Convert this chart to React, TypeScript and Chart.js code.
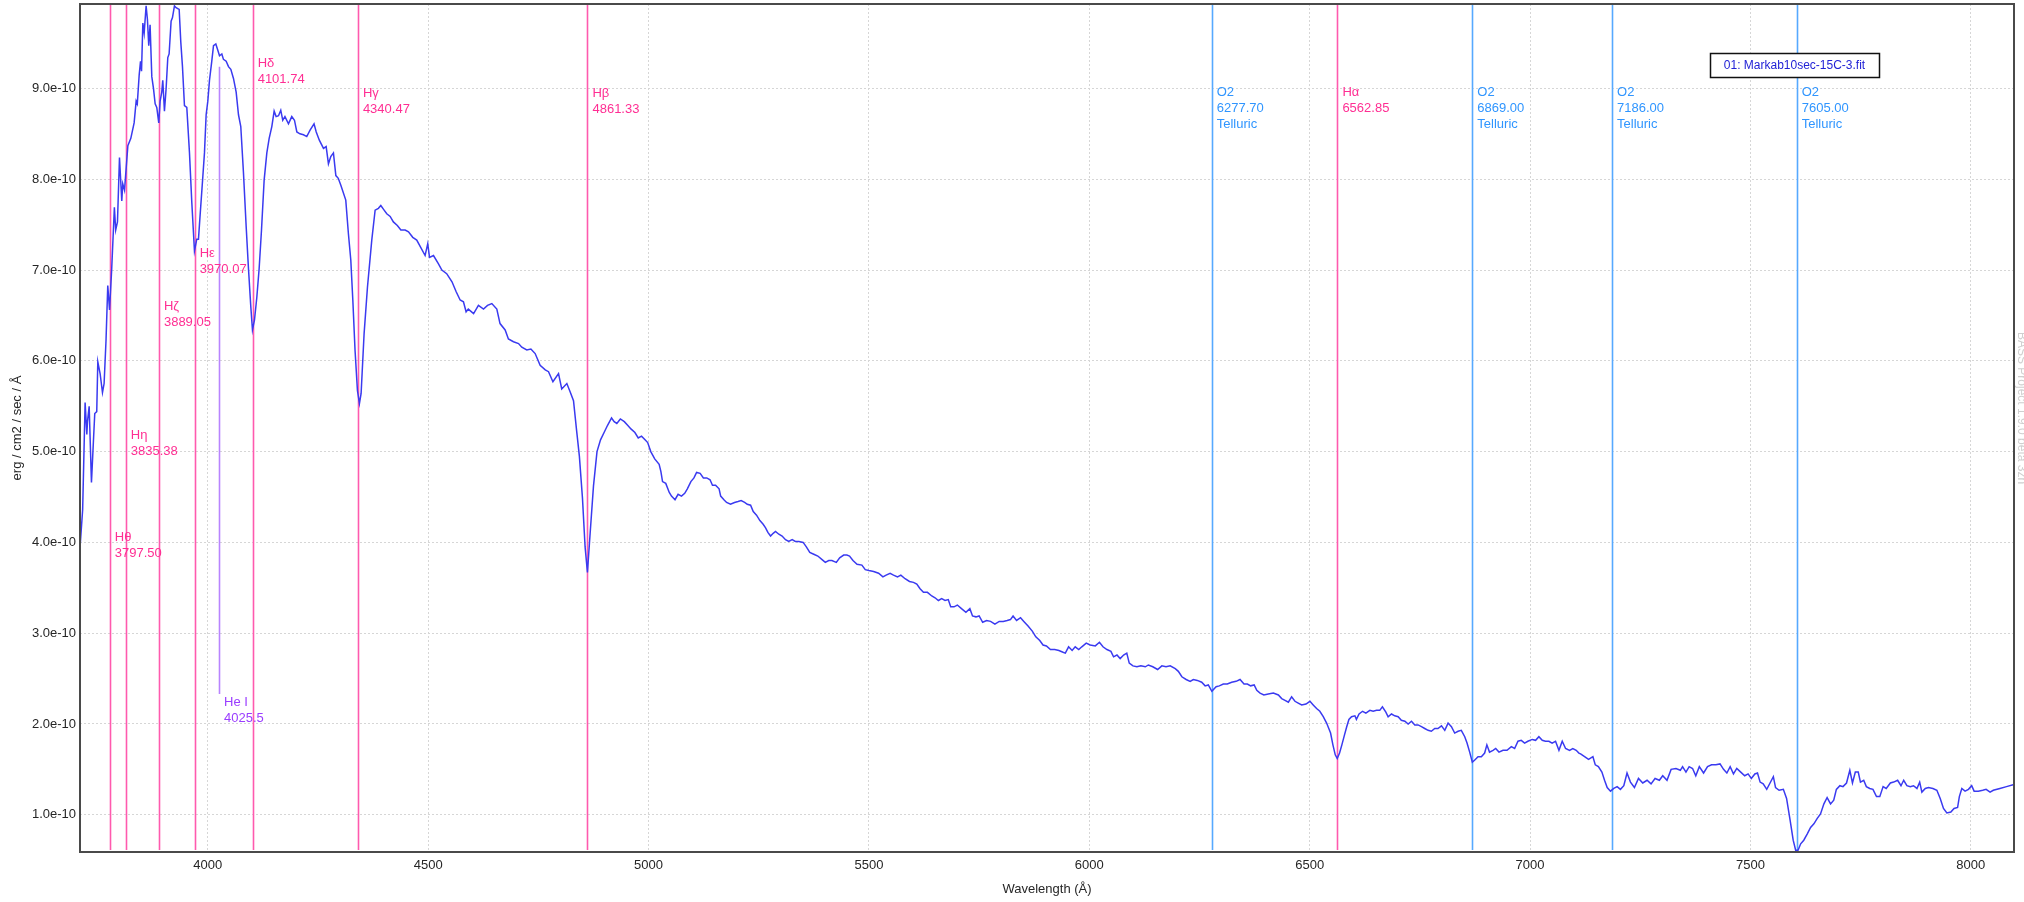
import React, { useEffect, useRef } from "react";
import { Chart, registerables } from "chart.js";

Chart.register(...registerables);

// ---------- DATA ----------
// Wavelength in Å
const wavelength = [
  3710.3, 3716, 3721.6, 3725.5, 3727, 3730.8, 3736, 3740.5, 3743.5, 3748,
  3750.4, 3755.6, 3761, 3764.7, 3769, 3773, 3777, 3782, 3788, 3791,
  3795, 3799.6, 3804.8, 3807, 3811, 3818.6, 3825.3, 3832.8, 3837.4, 3840,
  3844.3, 3847.3, 3849.6, 3852.6, 3855.6, 3860, 3863, 3866, 3869, 3872.9,
  3876.7, 3880.5, 3884.2, 3888.7, 3891.8, 3895.5, 3897.8, 3901.6, 3905.4, 3909.2,
  3912.2, 3916.7, 3919.8, 3924.3, 3928, 3935, 3938.7, 3942.5, 3947, 3952.3,
  3958.4, 3963.7, 3969.7, 3975, 3978.8, 3982.6, 3988.7, 3992.4, 3996.2, 4000,
  4003.8, 4009, 4012.9, 4018.2, 4022.7, 4026.5, 4031.8, 4035.5, 4041.6, 4046.9,
  4052.2, 4058.2, 4064.3, 4069.6, 4074.8, 4080.9, 4087, 4092.2, 4097.5, 4101.3,
  4105.9, 4111.2, 4116.5, 4121.8, 4127.8, 4133.9, 4139.2, 4145.2, 4150.5, 4155,
  4160.4, 4165.5, 4170, 4175, 4183, 4190.5, 4196.6, 4202, 4209, 4217,
  4224.5, 4232, 4241, 4246, 4253, 4262.4, 4268.5, 4273.7, 4279, 4285,
  4290.5, 4296, 4302, 4313, 4319, 4324.4, 4329, 4334, 4339.5, 4344,
  4347.8, 4354.6, 4362.2, 4372, 4379.6, 4387, 4392.5, 4400, 4406, 4413.7,
  4421, 4430, 4438, 4447.7, 4455.3, 4465, 4474, 4483, 4493, 4499,
  4503, 4512, 4523, 4531, 4542, 4554, 4563.5, 4572.5, 4580, 4586,
  4591, 4603, 4614, 4625.5, 4634.6, 4644.4, 4655.7, 4663, 4674.6, 4682,
  4693.5, 4705, 4712.4, 4723.7, 4733, 4742.7, 4754, 4765.6, 4773, 4783,
  4795.7, 4803, 4814.6, 4822, 4829.7, 4837, 4843, 4850, 4856, 4861.3,
  4867, 4875, 4883, 4891, 4901, 4907, 4916, 4922, 4928, 4936,
  4945, 4952.5, 4960, 4969, 4976.6, 4984, 4992, 4998, 5005, 5014,
  5024, 5028, 5031.7, 5039, 5047, 5052, 5060, 5067, 5074.7, 5082,
  5088, 5096, 5103, 5109, 5117, 5124.4, 5132, 5139.5, 5145, 5152,
  5160, 5163.6, 5171, 5177, 5186, 5195, 5203, 5210, 5218, 5224,
  5231.5, 5237.5, 5245, 5252.6, 5260, 5265.5, 5270.7, 5276.8, 5282.8, 5288,
  5295.6, 5303, 5310.7, 5318, 5325.8, 5333, 5341, 5350.7, 5358, 5365.8,
  5374.8, 5384, 5393.7, 5401, 5408.7, 5416, 5426, 5433.6, 5442.7, 5450,
  5456, 5463.8, 5473, 5484, 5491.7, 5500, 5510.6, 5521.9, 5531.7, 5539,
  5548, 5555.8, 5564.8, 5572.4, 5582, 5592, 5601, 5608.6, 5616, 5623.7,
  5632.7, 5642.5, 5650, 5657.6, 5665, 5672.7, 5680, 5685.5, 5693, 5700.6,
  5710, 5720, 5729, 5735, 5742.8, 5750, 5758, 5767, 5776, 5785.8,
  5795.6, 5804.7, 5813.7, 5821, 5827, 5835, 5844, 5851.4, 5861, 5871,
  5878.6, 5887.6, 5895, 5902.7, 5911.8, 5921.6, 5931, 5940.4, 5945.6, 5953,
  5961, 5968, 5976, 5983, 5993, 6002, 6013.6, 6023, 6031, 6040,
  6049, 6055, 6062.7, 6070, 6077.8, 6085, 6090.6, 6099, 6108, 6117,
  6127, 6134, 6144, 6155, 6164.6, 6174, 6183.5, 6195, 6202, 6210,
  6219.7, 6228.8, 6236, 6245, 6255, 6262.8, 6270, 6278, 6287.7, 6295,
  6304, 6313, 6323, 6333, 6342, 6351, 6358.7, 6366, 6374, 6380,
  6387.4, 6396, 6406, 6417.6, 6429, 6436.5, 6444, 6451.6, 6459, 6466.6,
  6474, 6481.8, 6491.6, 6500.6, 6508, 6515.7, 6523, 6530.8, 6538.4, 6547.4,
  6552.7, 6558, 6562.5, 6567.8, 6573, 6579, 6584, 6589, 6595, 6602.6,
  6606, 6612, 6620, 6627.5, 6636.6, 6644, 6651.7, 6659, 6665, 6672.8,
  6678, 6685.6, 6693, 6700.7, 6708, 6716, 6723.4, 6731, 6738.5, 6746,
  6753.6, 6761, 6768.7, 6776, 6783.8, 6791, 6799, 6806.5, 6814, 6821.6,
  6829, 6836.7, 6844, 6851.8, 6857, 6863, 6869, 6874, 6882, 6889.5,
  6897, 6902, 6908, 6916, 6922, 6929.5, 6938.6, 6947.7, 6957.5, 6965,
  6972.6, 6980, 6987.7, 6995, 7005, 7012.6, 7020, 7027.7, 7035, 7042.8,
  7050, 7057.8, 7065.5, 7073, 7080.6, 7089.6, 7097, 7104.7, 7110.8, 7114.6,
  7123.7, 7132.7, 7142.6, 7148, 7155, 7163, 7169, 7175, 7182.5, 7190,
  7197.6, 7205, 7212.7, 7220, 7227.8, 7236.8, 7246, 7255.7, 7265.5, 7274.5,
  7283.6, 7293.4, 7301, 7310.7, 7320, 7331, 7341, 7346, 7353.7, 7361,
  7368.7, 7376, 7384, 7393.7, 7402.7, 7411.8, 7421.6, 7431, 7439, 7446.5,
  7454, 7461.5, 7469, 7478, 7487, 7494.7, 7502, 7510, 7516, 7522,
  7529, 7537, 7544.5, 7552, 7557, 7565, 7574.7, 7582, 7590, 7597,
  7602.6, 7608, 7614, 7621, 7629, 7636.5, 7644, 7651.6, 7659, 7666.7,
  7674, 7681.8, 7689, 7695, 7703, 7710, 7718, 7725.5, 7731.5, 7738,
  7744.6, 7749.6, 7757, 7763, 7770.7, 7778, 7786, 7793.5, 7801, 7808,
  7817.5, 7825, 7834, 7841.6, 7847.7, 7855, 7862.7, 7870, 7877.8, 7884,
  7889, 7896.7, 7904, 7914, 7923, 7930.6, 7938, 7945.7, 7954.7, 7962,
  7970, 7974, 7979.6, 7987, 7994.7, 8002, 8007.5, 8017, 8027, 8034.7,
  8043.7, 8051, 8066, 8081, 8096,
];

// Flux in units of 1e-10 erg / cm2 / sec / Å
const flux = [
  3.96, 4.36, 5.54, 5.19, 5.33, 5.50, 4.66, 5.12, 5.42, 5.44,
  5.99, 5.86, 5.65, 5.75, 6.22, 6.83, 6.56, 7.02, 7.69, 7.44,
  7.53, 8.24, 7.76, 7.95, 7.88, 8.37, 8.45, 8.62, 8.86, 8.83,
  9.15, 9.30, 9.19, 9.72, 9.61, 9.91, 9.76, 9.47, 9.70, 9.13,
  9.00, 8.83, 8.79, 8.62, 8.86, 8.96, 9.09, 8.75, 9.00, 9.34,
  9.38, 9.74, 9.78, 9.91, 9.89, 9.87, 9.51, 9.24, 8.81, 8.79,
  8.29, 7.74, 7.21, 7.34, 7.34, 7.61, 8.03, 8.29, 8.71, 8.86,
  9.09, 9.30, 9.47, 9.49, 9.42, 9.36, 9.38, 9.32, 9.30, 9.24,
  9.21, 9.11, 8.96, 8.71, 8.58, 8.07, 7.48, 7.02, 6.60, 6.34,
  6.45, 6.70, 7.02, 7.44, 7.99, 8.29, 8.45, 8.58, 8.75, 8.69,
  8.70, 8.76, 8.65, 8.69, 8.61, 8.69, 8.65, 8.52, 8.50, 8.49,
  8.47, 8.54, 8.61, 8.52, 8.43, 8.34, 8.36, 8.17, 8.25, 8.29,
  8.04, 8.01, 7.93, 7.77, 7.40, 7.11, 6.67, 6.12, 5.67, 5.53,
  5.64, 6.30, 6.81, 7.33, 7.66, 7.68, 7.71, 7.66, 7.62, 7.59,
  7.53, 7.49, 7.44, 7.44, 7.42, 7.36, 7.33, 7.25, 7.16, 7.29,
  7.14, 7.16, 7.07, 7.00, 6.96, 6.87, 6.76, 6.67, 6.65, 6.54,
  6.57, 6.52, 6.61, 6.57, 6.61, 6.63, 6.57, 6.41, 6.34, 6.24,
  6.21, 6.19, 6.15, 6.12, 6.13, 6.08, 5.95, 5.90, 5.88, 5.77,
  5.86, 5.69, 5.75, 5.66, 5.56, 5.22, 4.95, 4.49, 3.95, 3.67,
  4.07, 4.62, 5.00, 5.13, 5.23, 5.29, 5.37, 5.33, 5.31, 5.36,
  5.33, 5.29, 5.25, 5.21, 5.15, 5.17, 5.13, 5.10, 5.00, 4.92,
  4.86, 4.78, 4.67, 4.65, 4.55, 4.51, 4.47, 4.53, 4.51, 4.54,
  4.59, 4.67, 4.71, 4.77, 4.76, 4.71, 4.71, 4.69, 4.63, 4.63,
  4.59, 4.51, 4.47, 4.44, 4.42, 4.44, 4.45, 4.46, 4.44, 4.42,
  4.41, 4.34, 4.30, 4.24, 4.20, 4.16, 4.11, 4.07, 4.10, 4.12,
  4.09, 4.07, 4.03, 4.01, 4.03, 4.01, 4.01, 4.00, 3.95, 3.89,
  3.87, 3.85, 3.81, 3.78, 3.80, 3.80, 3.78, 3.83, 3.86, 3.86,
  3.85, 3.80, 3.76, 3.75, 3.70, 3.69, 3.68, 3.66, 3.62, 3.64,
  3.66, 3.64, 3.62, 3.64, 3.60, 3.57, 3.56, 3.54, 3.49, 3.45,
  3.45, 3.41, 3.39, 3.36, 3.38, 3.36, 3.37, 3.29, 3.29, 3.31,
  3.27, 3.23, 3.27, 3.19, 3.18, 3.19, 3.12, 3.14, 3.13, 3.10,
  3.13, 3.13, 3.14, 3.15, 3.19, 3.14, 3.17, 3.13, 3.08, 3.02,
  2.96, 2.92, 2.87, 2.86, 2.82, 2.82, 2.81, 2.79, 2.78, 2.85,
  2.81, 2.85, 2.82, 2.85, 2.89, 2.87, 2.86, 2.90, 2.85, 2.82,
  2.80, 2.74, 2.76, 2.72, 2.76, 2.78, 2.67, 2.64, 2.63, 2.64,
  2.63, 2.65, 2.63, 2.60, 2.64, 2.63, 2.64, 2.61, 2.58, 2.52,
  2.49, 2.47, 2.49, 2.48, 2.46, 2.42, 2.43, 2.36, 2.41, 2.42,
  2.44, 2.44, 2.46, 2.47, 2.49, 2.44, 2.44, 2.42, 2.43, 2.37,
  2.34, 2.32, 2.33, 2.34, 2.32, 2.28, 2.26, 2.24, 2.30, 2.25,
  2.23, 2.21, 2.22, 2.25, 2.21, 2.17, 2.14, 2.08, 2.01, 1.90,
  1.77, 1.66, 1.62, 1.68, 1.77, 1.88, 1.97, 2.05, 2.08, 2.09,
  2.05, 2.11, 2.14, 2.12, 2.15, 2.14, 2.15, 2.15, 2.19, 2.13,
  2.08, 2.11, 2.09, 2.08, 2.04, 2.03, 2.00, 2.03, 1.99, 1.99,
  1.97, 1.95, 1.93, 1.92, 1.95, 1.95, 1.98, 1.93, 2.01, 1.97,
  1.90, 1.92, 1.93, 1.86, 1.79, 1.69, 1.58, 1.60, 1.64, 1.64,
  1.68, 1.77, 1.69, 1.71, 1.73, 1.69, 1.71, 1.71, 1.75, 1.73,
  1.81, 1.82, 1.79, 1.81, 1.83, 1.82, 1.86, 1.82, 1.81, 1.81,
  1.79, 1.81, 1.71, 1.81, 1.73, 1.71, 1.73, 1.71, 1.68, 1.67,
  1.64, 1.61, 1.64, 1.55, 1.53, 1.47, 1.38, 1.30, 1.26, 1.29,
  1.31, 1.28, 1.32, 1.46, 1.36, 1.30, 1.40, 1.35, 1.38, 1.34,
  1.40, 1.38, 1.43, 1.38, 1.50, 1.51, 1.49, 1.53, 1.47, 1.53,
  1.51, 1.43, 1.53, 1.46, 1.53, 1.55, 1.55, 1.56, 1.50, 1.46,
  1.53, 1.45, 1.51, 1.47, 1.43, 1.45, 1.40, 1.45, 1.46, 1.36,
  1.34, 1.28, 1.35, 1.42, 1.30, 1.27, 1.28, 1.18, 0.94, 0.72,
  0.61, 0.61, 0.68, 0.72, 0.79, 0.86, 0.90, 0.96, 1.01, 1.12,
  1.19, 1.12, 1.16, 1.28, 1.32, 1.31, 1.35, 1.49, 1.35, 1.47,
  1.47, 1.36, 1.38, 1.31, 1.29, 1.28, 1.20, 1.20, 1.31, 1.29,
  1.35, 1.36, 1.38, 1.32, 1.38, 1.32, 1.31, 1.32, 1.29, 1.36,
  1.25, 1.29, 1.30, 1.29, 1.27, 1.18, 1.07, 1.02, 1.03, 1.07,
  1.08, 1.20, 1.29, 1.26, 1.28, 1.32, 1.26, 1.26, 1.27, 1.28,
  1.25, 1.27, 1.29, 1.31, 1.33,
];

const seriesName = "01: Markab10sec-15C-3.fit";

// Axis range and ticks
const xMin = 3710;
const xMax = 8098;
const xTickValues = [4000, 4500, 5000, 5500, 6000, 6500, 7000, 7500, 8000];
const yMin = 0.59;
const yMax = 9.93;
const yTickValues = [1, 2, 3, 4, 5, 6, 7, 8, 9];
const xTitle = "Wavelength (Å)";
const yTitle = "erg / cm2 / sec / Å";
const watermark = "BASS Project 1.9.0 beta 3zn";

// Line identifications
const markerNames = ["Hθ", "Hη", "Hζ", "Hε", "Hδ", "Hγ", "Hβ", "Hα", "O2", "O2", "O2", "O2", "He I"];
const markerValues = ["3797.50", "3835.38", "3889.05", "3970.07", "4101.74", "4340.47", "4861.33", "6562.85", "6277.70", "6869.00", "7186.00", "7605.00", "4025.5"];
const markerNotes = ["", "", "", "", "", "", "", "", "Telluric", "Telluric", "Telluric", "Telluric", ""];
const markerKinds = ["H", "H", "H", "H", "H", "H", "H", "H", "T", "T", "T", "T", "He"];
// wavelength where each marker line is drawn
const markerAt = [3777.5, 3814, 3889.05, 3970.07, 4101.74, 4340.47, 4861.33, 6562.85, 6277.7, 6869, 7186, 7605, 4025.5];

// ---------- LAYOUT / STYLE (not data) ----------
const labelLevel = [4.05, 5.18, 6.6, 7.18, 9.28, 8.94, 8.95, 8.96, 8.96, 8.96, 8.96, 8.96, 2.24];
const heSpan = [2.33, 9.24];
const kindStyle: Record<string, { line: string; text: string }> = {
  H: { line: "#ff5aae", text: "#ff2e93" },
  T: { line: "#56a9ff", text: "#2f95ff" },
  He: { line: "#b884ff", text: "#9a3dff" },
};
const FONT = "'Liberation Sans', Arial, sans-serif";
const TEXT_COLOR = "#262626";

const overlayPlugin = {
  id: "overlay",
  beforeDatasetsDraw(chart: any) {
    const { ctx, chartArea: a, scales } = chart;
    const x = scales.x;
    const y = scales.y;
    ctx.save();
    ctx.beginPath();
    ctx.rect(a.left, a.top, a.right - a.left, a.bottom - a.top);
    ctx.clip();
    for (let i = 0; i < markerAt.length; i++) {
      const st = kindStyle[markerKinds[i]];
      const px = Math.round(x.getPixelForValue(markerAt[i])) + 0.5;
      let top = a.top + 1;
      let bottom = a.bottom - 2;
      if (markerKinds[i] === "He") {
        top = y.getPixelForValue(heSpan[1]);
        bottom = y.getPixelForValue(heSpan[0]);
      }
      ctx.strokeStyle = st.line;
      ctx.lineWidth = 1.6;
      ctx.beginPath();
      ctx.moveTo(px, top);
      ctx.lineTo(px, bottom);
      ctx.stroke();
    }
    ctx.font = `13px ${FONT}`;
    ctx.textAlign = "left";
    ctx.textBaseline = "middle";
    for (let i = 0; i < markerAt.length; i++) {
      const st = kindStyle[markerKinds[i]];
      const px = x.getPixelForValue(markerAt[i]) + 5;
      const py = y.getPixelForValue(labelLevel[i]);
      ctx.fillStyle = st.text;
      const lines = [markerNames[i], markerValues[i]];
      if (markerNotes[i]) lines.push(markerNotes[i]);
      lines.forEach((t, k) => ctx.fillText(t, px, py + k * 16));
    }
    ctx.restore();
  },
  afterDraw(chart: any) {
    const { ctx, chartArea: a, width } = chart;
    ctx.save();
    // frame
    ctx.strokeStyle = "#4a4a4a";
    ctx.lineWidth = 2;
    ctx.strokeRect(a.left, a.top, a.right - a.left, a.bottom - a.top);
    // legend box
    const bx = a.right - 304;
    const by = a.top + 49;
    const bw = 169;
    const bh = 24;
    ctx.fillStyle = "#ffffff";
    ctx.fillRect(bx, by, bw, bh);
    ctx.strokeStyle = "#111111";
    ctx.lineWidth = 1.5;
    ctx.strokeRect(bx + 0.5, by + 0.5, bw, bh);
    ctx.fillStyle = "#2222d6";
    ctx.font = `12px ${FONT}`;
    ctx.textAlign = "center";
    ctx.textBaseline = "middle";
    ctx.fillText(chart.data.datasets[0].label, bx + bw / 2, by + bh / 2 + 1);
    // axis titles
    ctx.fillStyle = TEXT_COLOR;
    ctx.font = `13px ${FONT}`;
    ctx.fillText(xTitle, (a.left + a.right) / 2, 889);
    ctx.save();
    ctx.translate(17, (a.top + a.bottom) / 2);
    ctx.rotate(-Math.PI / 2);
    ctx.fillText(yTitle, 0, 0);
    ctx.restore();
    // faint watermark on the right edge, reading top to bottom
    ctx.save();
    ctx.translate(width - 3, 332);
    ctx.rotate(Math.PI / 2);
    ctx.fillStyle = "#cfcfcf";
    ctx.font = `12px ${FONT}`;
    ctx.textAlign = "left";
    ctx.fillText(watermark, 0, 0);
    ctx.restore();
    ctx.restore();
  },
};

const zeroPadding = (s: any) => {
  s.paddingTop = 0;
  s.paddingBottom = 0;
  s.paddingLeft = 0;
  s.paddingRight = 0;
};

export default function App() {
  const ref = useRef<HTMLCanvasElement | null>(null);
  useEffect(() => {
    document.body.style.margin = "0";
    const canvas = ref.current;
    if (!canvas) return;
    const points = wavelength.map((w, i) => ({ x: w, y: flux[i] }));
    const chart = new Chart(canvas, {
      type: "line",
      data: {
        datasets: [
          {
            label: seriesName,
            data: points,
            borderColor: "#3a3af0",
            borderWidth: 1.5,
            pointRadius: 0,
            tension: 0,
            fill: false,
          },
        ],
      },
      options: {
        animation: false,
        responsive: false,
        maintainAspectRatio: false,
        layout: { padding: { top: 4, right: 10, left: 0, bottom: 0 } },
        plugins: { legend: { display: false }, tooltip: { enabled: false } },
        scales: {
          x: {
            type: "linear",
            min: xMin,
            max: xMax,
            afterBuildTicks: (s: any) => {
              s.ticks = xTickValues.map((v) => ({ value: v }));
            },
            afterFit: (s: any) => {
              s.height = 50;
              zeroPadding(s);
            },
            ticks: {
              padding: 6,
              maxRotation: 0,
              autoSkip: false,
              color: TEXT_COLOR,
              font: { family: FONT, size: 13 },
              callback: (v: any) => String(v),
            },
            grid: { color: "#d6d6d6", drawTicks: false, lineWidth: 1 },
            border: { display: false, dash: [2, 2] },
          },
          y: {
            type: "linear",
            min: yMin,
            max: yMax,
            afterBuildTicks: (s: any) => {
              s.ticks = yTickValues.map((v) => ({ value: v }));
            },
            afterFit: (s: any) => {
              s.width = 80;
              zeroPadding(s);
            },
            ticks: {
              padding: 4,
              autoSkip: false,
              color: TEXT_COLOR,
              font: { family: FONT, size: 13 },
              callback: (v: any) => Number(v).toFixed(1) + "e-10",
            },
            grid: { color: "#d6d6d6", drawTicks: false, lineWidth: 1 },
            border: { display: false, dash: [2, 2] },
          },
        },
      },
      plugins: [overlayPlugin],
    });
    return () => chart.destroy();
  }, []);
  return (
    <div style={{ width: 2024, height: 902, background: "#ffffff" }}>
      <canvas ref={ref} width={2024} height={902} style={{ display: "block" }} />
    </div>
  );
}
